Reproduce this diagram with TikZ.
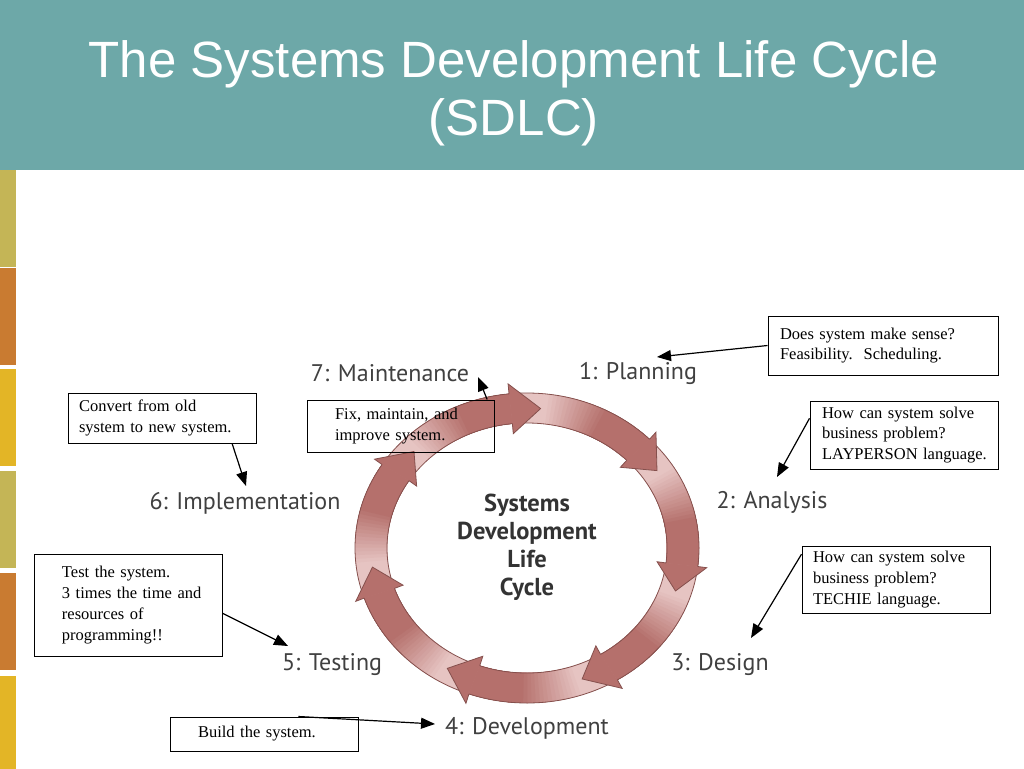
\documentclass[tikz,border=0pt]{standalone}
\usepackage{fontspec}
\setmainfont{Liberation Serif}
\setsansfont{Liberation Sans}
\newfontfamily\labelfont{PT Sans}
\usetikzlibrary{arrows.meta}
\definecolor{headerteal}{HTML}{6DA8A8}
\definecolor{barolive}{HTML}{C4B556}
\definecolor{barorange}{HTML}{C97B31}
\definecolor{baryellow}{HTML}{E3B526}
\definecolor{ringdark}{HTML}{B5706C}
\definecolor{ringlight}{HTML}{E6C4C2}
\definecolor{ringline}{HTML}{85504D}
\definecolor{phasegray}{HTML}{404040}
\definecolor{centergray}{HTML}{333333}
\tikzset{
  box/.style={draw, line width=1pt, inner sep=0pt, align=left,
    font=\fontsize{16.5}{20.7}\selectfont},
  callout/.style n args={3}{text width=#1pt, minimum height=#2pt,
    execute at begin node={\leftskip=#3pt}},
  phase/.style={font=\labelfont\fontsize{24}{26}\selectfont, text=phasegray},
  pointer/.style={line width=1.2pt, -{Triangle[length=14pt,width=11pt]}},
}
\begin{document}
\begin{tikzpicture}[x=1pt,y=-1pt]
\useasboundingbox (0,0) rectangle (1024,768);
\fill[white] (0,0) rectangle (1024,768);
% header and side bar
\fill[headerteal] (0,0) rectangle (1024,170);
\node[font=\sffamily\fontsize{51}{58}\selectfont, text=white, align=center] (title) at (514,93)
  {The Systems Development Life Cycle\\(SDLC)};
\foreach \y/\c in {170/barolive,268/barorange,369/baryellow,471/barolive,573/barorange,676/baryellow}
  \fill[\c] (0,\y) rectangle (16,\y+97);

% the cycle
\begin{scope}[shift={(527,548)}]
\fill[ringlight, even odd rule] (0,0) ellipse[x radius=172, y radius=155]
  (0,0) ellipse[x radius=140, y radius=125];
\foreach \k in {0,...,6} {
  \pgfmathsetmacro\tip{-85+51.43*\k}
  \pgfmathsetmacro\base{\tip-11}
  \foreach \s in {0,...,15} {
    \pgfmathsetmacro\tail{\tip-51.43+1+1.4*\s}
    \pgfmathtruncatemacro\p{100*\s/15}
    \fill[ringdark!\p!ringlight] (\tail:172 and 155)
      arc[start angle=\tail, end angle=\base, x radius=172, y radius=155]
      -- (\base:140 and 125)
      arc[start angle=\base, end angle=\tail, x radius=140, y radius=125] -- cycle;
  }
}
\draw[ringline, line width=0.8pt] (0,0) ellipse[x radius=172, y radius=155]
  (0,0) ellipse[x radius=140, y radius=125];
\foreach \k in {0,...,6} {
  \pgfmathsetmacro\tip{-85+51.43*\k}
  \pgfmathsetmacro\base{\tip-11}
  \filldraw[fill=ringdark, draw=ringline, line width=0.8pt] (\base:172 and 155)
    -- (\base:181 and 165) -- (\tip:156 and 140) -- (\base:131 and 115) -- (\base:140 and 125);
}
\end{scope}
\node[font=\labelfont\bfseries\fontsize{24.5}{28}\selectfont, text=centergray, align=center] (center) at (527,547)
  {Systems\\Development\\Life\\Cycle};

% phases
\node[phase] (plan) at (638,373) {1: Planning};
\node[phase] (ana) at (772,502) {2: Analysis};
\node[phase] (des) at (720,665) {3: Design};
\node[phase] (dev) at (527,728) {4: Development};
\node[phase] (tst) at (332,665) {5: Testing};
\node[phase] (imp) at (245,503) {6: Implementation};
\node[phase] (mnt) at (390,373) {7: Maintenance};

% callouts
\node[box, callout={230}{59}{12}] (planbox) at (883,345.5)
  {Does system make sense?\\Feasibility.\ \ Scheduling.};
\node[box, callout={188}{68}{12}] (anabox) at (904,435)
  {How can system solve\\business problem?\\LAYPERSON language.};
\node[box, callout={188}{67}{11}] (desbox) at (896,579.5)
  {How can system solve\\business problem?\\TECHIE language.};
\node[box, callout={188}{50}{11}] (impbox) at (162,418)
  {Convert from old\\system to new system.};
\node[box, callout={187}{52}{28}] (mntbox) at (400.5,426)
  {Fix, maintain, and\\improve system.};
\node[box, callout={188}{102}{28}] (tstbox) at (128,605)
  {Test the system.\\3 times the time and\\resources of\\programming!!};
\node[box, callout={188}{34}{28}] (devbox) at (264,734)
  {Build the system.};

\coordinate (plantip) at (657,357);
\coordinate (anatip) at (777,477);
\coordinate (destip) at (751,638);
\coordinate (imptip) at (246,486);
\coordinate (mnttip) at (478,377);
\coordinate (tsttip) at (288,646);
\coordinate (devtip) at (435,724);
\draw[pointer] (planbox.west) -- (plantip);
\draw[pointer] (anabox.170) -- (anatip);
\draw[pointer] (desbox.165) -- (destip);
\draw[pointer] (impbox.-20) -- (imptip);
\draw[pointer] (mntbox.17) -- (mnttip);
\draw[pointer] (tstbox.-5) -- (tsttip);
\draw[pointer] (devbox.27) -- (devtip);
\end{tikzpicture}
\end{document}
